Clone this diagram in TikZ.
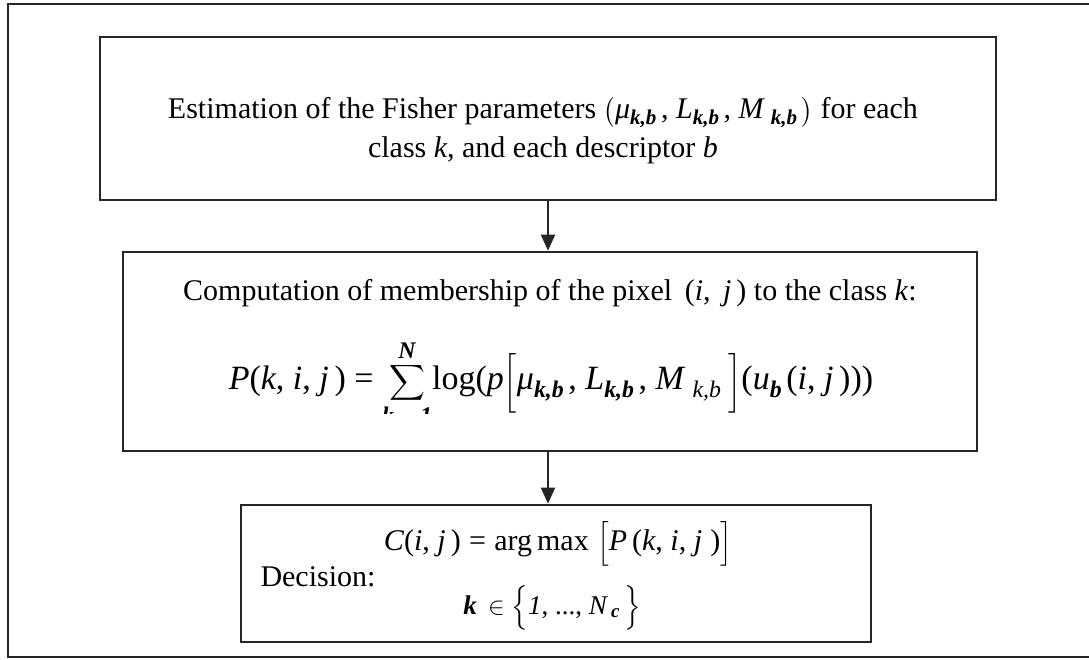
\documentclass[tikz,border=0pt]{standalone}
\usepackage{amsmath}
\usepackage{fontspec}
\setmainfont{Liberation Serif}
\usetikzlibrary{arrows.meta}
\newcommand\ti[1]{\textit{#1}}
\newcommand\bi[1]{\textbf{\textit{#1}}}
\begin{document}
\begin{tikzpicture}[x=1pt,y=-1pt,
  frame/.style={draw=black!85, line width=2.6pt},
  box/.style={draw=black!85, line width=2.6pt, inner sep=0pt},
  txt/.style={font=\fontsize{30}{39}\selectfont, inner sep=0pt, align=center},
  big/.style={font=\fontsize{34}{40}\selectfont, inner sep=0pt},
  conn/.style={draw=black!85, line width=2pt, -{Triangle[width=14pt,length=16pt]}}]
\useasboundingbox (0,0) rectangle (1089,660);
\draw[frame] (1095,4) -- (8,4) -- (8,657) -- (1095,657);
% boxes
\node[box, minimum width=896pt, minimum height=163pt] (b1) at (548,118.5) {};
\node[box, minimum width=854pt, minimum height=199pt] (b2) at (550,351.5) {};
\node[box, minimum width=630pt, minimum height=137pt] (b3) at (556,573.5) {};
% box 1 text
\node[txt] (t1) at (543,131) {Estimation of the Fisher parameters $\big($\ti{μ}$_{\bi{k,b}}\,$, \ti{L}$_{\bi{k,b}}\,$, \ti{M}$_{\;\bi{k,b}}\,\big)$ for each\\
class \ti{k}, and each descriptor \ti{b}};
% box 2 text
\node[txt] (t2) at (550,293) {Computation of membership of the pixel \,(\ti{i}, \,\ti{j}\,) to the class \ti{k}:};
\begin{scope}
\clip (123,320) rectangle (977,413);
\node[big] (f2) at (551,383) {\ti{P}(\ti{k}, \ti{i}, \ti{j}\,) = $\displaystyle\sum_{\bi{k}\,=\,\bi{1}}^{\ti{\textbf{N}}}$log(\ti{p}$\bigg[$\ti{μ}$_{\bi{k,b}}\,$, \ti{L}$_{\bi{k,b}}\,$, \ti{M}$_{\;\ti{k,b}}\;\bigg]$(\ti{u}$_{\bi{b}}\,$(\ti{i}, \ti{j}\,)))};
\end{scope}
% box 3 text
\node[txt] (t3) at (318,577) {Decision:};
\node[txt] (f3a) at (558,544) {\ti{C}(\ti{i}, \ti{j}\,)\;=\;arg\,max\;$\Big[$\ti{P}\,(\ti{k}, \ti{i}, \ti{j}\;)$\Big]$};
\node[txt, font=\fontsize{27}{30}\selectfont] (f3b) at (552,608) {\bi{k} \,$\in\Big\{$\ti{1}, ..., \ti{N}$_{\,\bi{c}}\,\Big\}$};
% connectors
\draw[conn] (b1.south) -- (b1.south |- b2.north);
\draw[conn] (b2.south -| b1.south) -- (b1.south |- b3.north);
\end{tikzpicture}
\end{document}
